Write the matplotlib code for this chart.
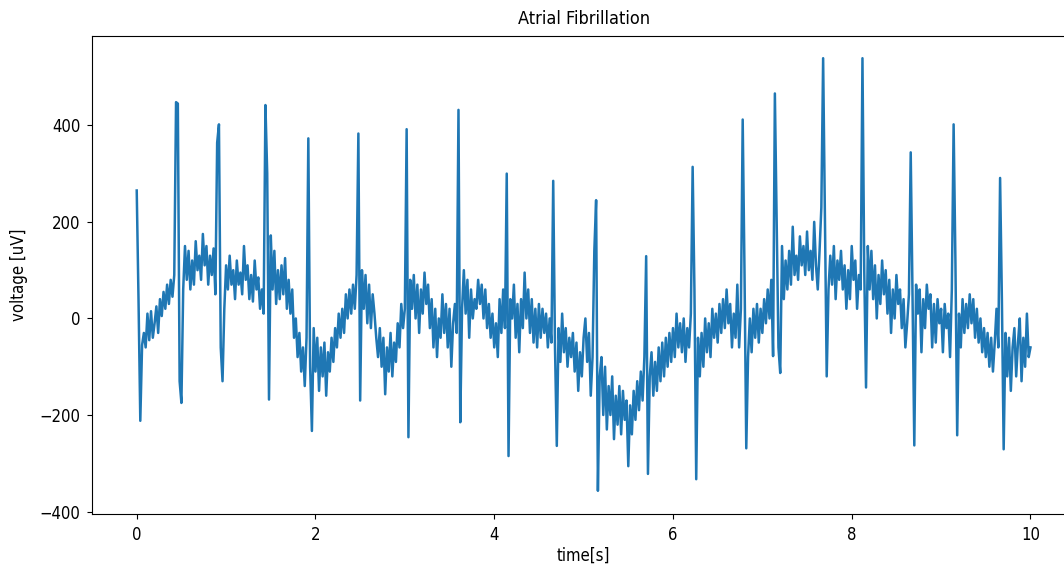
import numpy as np
import matplotlib
matplotlib.use("Agg")
import matplotlib.pyplot as plt

# ECG trace, one value every 0.02 s (uV)
voltage = [
    265, 40, -212, -55, -30, -60, 10, -45, 15, -40, -10, 25, -30, 40, 5, 55, 20, 70, 30, 80, 45, 90, 448, 445, -130,
    -175, 60, 150, 80, 140, 60, 120, 70, 160, 100, 130, 80, 175, 110, 150, 70, 130, 90, 145, 50, 364, 402, -60, -130,
    20, 110, 60, 130, 70, 100, 40, 120, 70, 95, 50, 150, 80, 110, 40, 90, 35, 120, 60, 85, 20, 60, 10, 442, 300,
    -168, 172, 60, 140, 30, 100, 40, 110, 50, 125, 20, 80, 10, 60, -40, 0, -80, -30, -110, -60, -140, -40, 373, -100, -233,
    -20, -110, -40, -150, -60, -120, -50, -160, -70, -110, -40, -90, -20, -60, 10, -40, 20, -30, 50, 0, 60, 10, 70, 20, 90,
    383, -170, 100, 20, 90, -10, 70, -20, 50, 10, -40, -80, -20, -100, -40, -157, -60, -110, -30, -120, -50, -90, -10, -60, 30,
    -20, 20, 392, -246, 80, 20, 90, 0, 70, -30, 60, 10, 95, 30, 70, -20, 40, -60, 20, -80, 0, -40, 50, -30, 30,
    -60, 20, -100, -10, 30, -30, 432, -215, 20, 100, 10, 80, -40, 60, 0, 40, 20, 80, 30, 70, 0, 60, -20, 30, -40,
    10, -60, -10, -80, 40, -30, 60, -20, 300, -285, 40, 0, 70, -40, 30, -70, 40, -20, 95, 0, 60, -30, 40, -50, 20,
    -60, 30, -40, 20, -30, 10, -60, 0, -50, 285, -60, -264, -20, -90, 10, -70, -20, -100, -40, -80, -30, -110, -50, -150, -70,
    -120, -40, 0, -90, -30, -160, -80, 140, 245, -357, -120, -80, -200, -100, -230, -140, -200, -120, -250, -160, -220, -140, -240, -150, -210,
    -170, -306, -180, -240, -150, -210, -130, -190, -110, -170, -80, 129, -322, -120, -70, -160, -90, -150, -60, -130, -50, -120, -40, -100, -30,
    -90, -20, -80, 10, -60, -10, -70, 0, -90, -20, -60, 10, 314, 60, -333, -40, -120, -30, -100, 0, -70, -10, -80, 20, -40,
    10, -50, 30, -30, 40, -20, 60, -10, 30, -60, 10, -40, 70, -60, 20, 412, 100, -269, -80, 0, -70, 20, -40, 30, -50,
    20, -30, 40, -10, 60, 0, 80, -78, 466, 200, -60, -113, 150, 40, 120, 60, 140, 70, 190, 90, 130, 80, 170, 110, 150,
    90, 180, 100, 140, 80, 200, 110, 60, 140, 230, 539, 200, -120, 60, 130, 70, 150, 40, 120, 80, 140, 60, 110, 20, 100,
    40, 150, 80, 120, 20, 90, 60, 539, 100, -143, 150, 60, 140, 40, 110, 0, 90, 30, 120, 50, 100, 10, 80, -30, 60,
    0, 90, 30, 60, -20, 40, -60, -10, 50, 344, 50, -263, 70, 10, 60, -70, 40, -20, 70, 20, 50, -60, 30, -50, 40,
    -10, 20, -70, 30, -20, 10, -80, 60, 402, 120, -242, 10, -60, 40, -30, 30, -20, 50, -10, 40, -40, 20, -50, 0, -70,
    -20, -80, -30, -100, -40, -110, -50, 20, -60, 291, 40, -271, -30, -120, -40, -150, -60, -20, -120, -50, 0, -130, -40, -100, 10,
    -80, -60,
]
duration = 10.0
time = np.linspace(0, duration, len(voltage))

plt.rcParams['font.family'] = ['DejaVu Sans']
plt.rcParams['font.stretch'] = 'condensed'

fig = plt.figure(figsize=(10.64, 5.67), dpi=100)
ax = fig.add_axes([0.0865, 0.0935, 0.924, 0.843])

ax.plot(time, voltage, color='#1f77b4', linewidth=1.8)

ax.set_xlim(-0.5, 10.5)
ax.set_ylim(-405, 585)
ax.set_xticks([0, 2, 4, 6, 8, 10])
ax.set_yticks([-400, -200, 0, 200, 400])
ax.tick_params(labelsize=12, pad=5)

ax.set_title('Atrial Fibrillation', fontsize=13, pad=9)
ax.set_xlabel('time[s]', fontsize=12, labelpad=2)
ax.set_ylabel('voltage [uV]', fontsize=12, labelpad=8)

fig.savefig('out.png', dpi=100)
